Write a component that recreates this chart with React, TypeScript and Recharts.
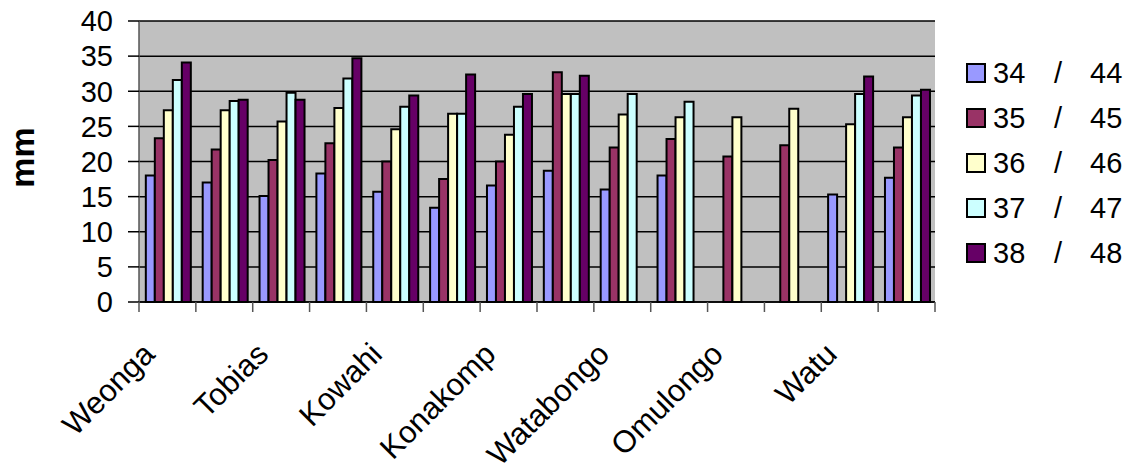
import React from 'react';
import { BarChart, Bar, XAxis, YAxis, CartesianGrid, Legend } from 'recharts';

// Stations along the category axis; every second station carries no printed name
const categories = [
  'Weonga', '', 'Tobias', '', 'Kowahi', '', 'Konakomp', '',
  'Watabongo', '', 'Omulongo', '', 'Watu', '',
];

// Rainfall per period (mm); null where no value was recorded
const period34 = [18.0, 17.0, 15.1, 18.3, 15.7, 13.4, 16.6, 18.7, 16.0, 18.0, null, null, 15.3, 17.7];
const period35 = [23.3, 21.7, 20.2, 22.6, 20.0, 17.5, 20.0, 32.7, 22.0, 23.2, 20.7, 22.3, null, 22.0];
const period36 = [27.3, 27.3, 25.7, 27.6, 24.6, 26.8, 23.8, 29.6, 26.7, 26.3, 26.3, 27.5, 25.3, 26.3];
const period37 = [31.6, 28.6, 29.8, 31.8, 27.8, 26.8, 27.8, 29.6, 29.6, 28.5, null, null, 29.6, 29.4];
const period38 = [34.1, 28.8, 28.8, 34.7, 29.4, 32.4, 29.6, 32.2, null, null, null, null, 32.1, 30.2];

const seriesNames = ['34 / 44', '35 / 45', '36 / 46', '37 / 47', '38 / 48'];
const seriesKeys = ['p34', 'p35', 'p36', 'p37', 'p38'];
const seriesColors = ['#9999FF', '#993366', '#FFFFCC', '#CCFFFF', '#660066'];
const seriesValues = [period34, period35, period36, period37, period38];

const yTicks = [0, 5, 10, 15, 20, 25, 30, 35, 40];

const data = categories.map((name, i) => {
  const row: Record<string, string | number | null> = { name };
  seriesKeys.forEach((k, s) => {
    row[k] = seriesValues[s][i];
  });
  return row;
});

const WIDTH = 1131;
const HEIGHT = 467;
const MARGIN = { top: 21, right: 196, bottom: 0, left: 0 };
const Y_AXIS_W = 139;
const X_AXIS_H = 165;
const PLOT_W = WIDTH - MARGIN.left - MARGIN.right - Y_AXIS_W;
const PLOT_BOTTOM = HEIGHT - MARGIN.bottom - X_AXIS_H;
const BAND = PLOT_W / categories.length;
const FONT = '"Liberation Sans", Arial, sans-serif';

const CategoryTick = (props: any) => {
  const { x, payload, index } = props;
  const y = PLOT_BOTTOM;
  const left = x - BAND / 2;
  const right = x + BAND / 2;
  const label = payload.value as string;
  const lx = x - 11;
  const ly = y + 54;
  return (
    <g>
      <line x1={left} y1={y} x2={left} y2={y + 10} stroke="#555" strokeWidth={1.5} />
      {index === categories.length - 1 && (
        <line x1={right} y1={y} x2={right} y2={y + 10} stroke="#555" strokeWidth={1.5} />
      )}
      {label && (
        <text
          x={lx}
          y={ly}
          textAnchor="end"
          transform={`rotate(-45, ${lx}, ${ly})`}
          fontFamily={FONT}
          fontSize={31}
          fill="#000"
        >
          {label}
        </text>
      )}
    </g>
  );
};

const renderLegend = (props: any) => {
  const items = props.payload || [];
  return (
    <svg width={176} height={240} style={{ display: 'block' }}>
      {items.map((item: any, i: number) => {
        const cy = 23 + i * 45;
        const parts = String(item.value).split(' / ');
        return (
          <g key={i} fontFamily={FONT} fontSize={29} fill="#000">
            <rect x={12} y={cy - 9} width={18} height={18} fill={item.color} stroke="#000" strokeWidth={2} />
            <text x={38} y={cy} dy="0.355em">{parts[0]}</text>
            <text x={103} y={cy} dy="0.355em" textAnchor="middle">/</text>
            <text x={135} y={cy} dy="0.355em">{parts[1]}</text>
          </g>
        );
      })}
    </svg>
  );
};

const YLabel = (props: any) => {
  const { viewBox } = props;
  const cx = 22;
  const cy = viewBox.y + viewBox.height / 2 - 4;
  return (
    <text
      x={cx}
      y={cy}
      textAnchor="middle"
      dominantBaseline="central"
      transform={`rotate(-90, ${cx}, ${cy})`}
      fontFamily={FONT}
      fontWeight="bold"
      fontSize={34}
      fill="#000"
    >
      mm
    </text>
  );
};

export default function App() {
  return (
    <div style={{ position: 'absolute', left: 0, top: 0, width: WIDTH, height: HEIGHT, background: '#fff' }}>
      <BarChart
        width={WIDTH}
        height={HEIGHT}
        data={data}
        margin={MARGIN}
        barCategoryGap="12%"
        barGap={0}
      >
        <CartesianGrid vertical={false} stroke="#000" strokeWidth={1.5} fill="#C0C0C0" fillOpacity={1} />
        <XAxis
          dataKey="name"
          height={X_AXIS_H}
          interval={0}
          tickSize={0}
          tickLine={false}
          axisLine={{ stroke: '#000', strokeWidth: 1.5 }}
          tick={<CategoryTick />}
        />
        <XAxis
          xAxisId="top"
          dataKey="name"
          orientation="top"
          height={0}
          tick={false}
          tickLine={false}
          axisLine={{ stroke: '#808080', strokeWidth: 2 }}
        />
        <YAxis
          width={Y_AXIS_W}
          domain={[0, 40]}
          ticks={yTicks}
          interval={0}
          tickSize={11}
          tickMargin={15}
          tickLine={{ stroke: '#000', strokeWidth: 1.5 }}
          axisLine={{ stroke: '#555', strokeWidth: 1.5 }}
          tick={{ fontFamily: FONT, fontSize: 29, fill: '#000' }}
          label={<YLabel />}
        />
        <YAxis
          yAxisId="right"
          orientation="right"
          width={0}
          tick={false}
          tickLine={false}
          axisLine={{ stroke: '#808080', strokeWidth: 2 }}
        />
        {seriesKeys.map((k, s) => (
          <Bar
            key={k}
            dataKey={k}
            name={seriesNames[s]}
            fill={seriesColors[s]}
            stroke="#000"
            strokeWidth={2}
            isAnimationActive={false}
          />
        ))}
        <Legend
          layout="vertical"
          align="center"
          verticalAlign="middle"
          content={renderLegend}
          wrapperStyle={{ position: 'absolute', left: 955, top: 50, width: 176, height: 240 }}
        />
      </BarChart>
    </div>
  );
}
